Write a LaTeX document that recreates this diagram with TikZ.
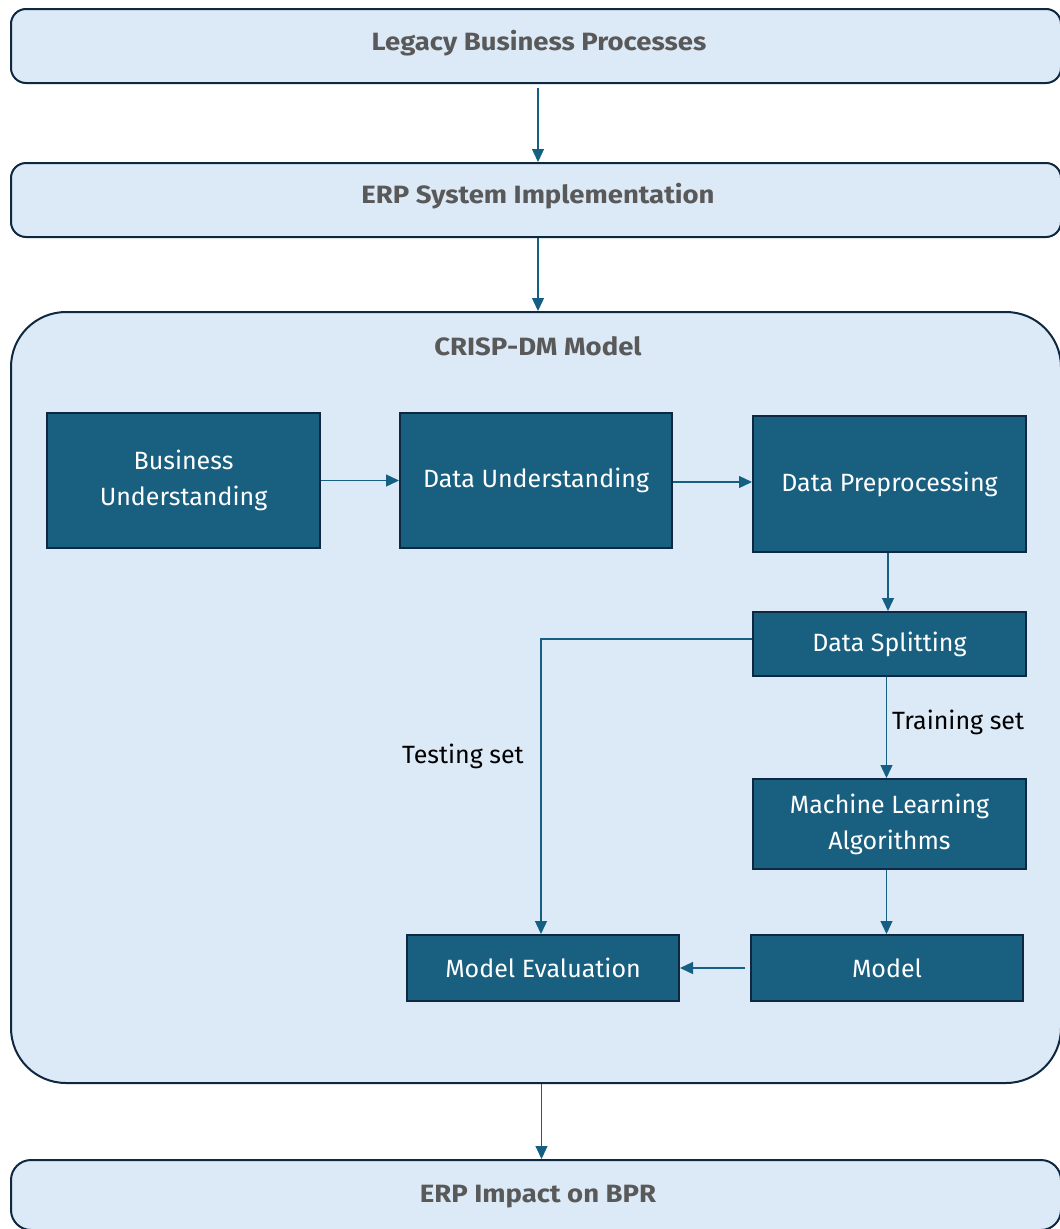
\documentclass[tikz,border=0pt]{standalone}
\usepackage{fontspec}
\setmainfont{Fira Sans}
\usetikzlibrary{arrows.meta}
\definecolor{lightfill}{HTML}{DCE9F6}
\definecolor{darkfill}{HTML}{185F80}
\definecolor{edgecol}{HTML}{0E2841}
\definecolor{conncol}{HTML}{156082}
\definecolor{headgray}{HTML}{595959}
\begin{document}
\begin{tikzpicture}[x=1pt,y=-1pt,
  roundbox/.style={draw=edgecol, line width=2pt, fill=lightfill, rounded corners=#1, inner sep=0pt},
  darkbox/.style={draw=edgecol, line width=2pt, fill=darkfill, text=white, font=\fontsize{25}{36}\selectfont, align=center, inner sep=0pt},
  head/.style={font=\fontsize{25}{30}\selectfont\bfseries, text=headgray, anchor=base, inner sep=0pt, transform shape, xscale=1.1},
  lbl/.style={font=\fontsize{25}{30}\selectfont, text=black, anchor=base west, inner sep=0pt},
  conn/.style={draw=conncol, line width=1.3pt, -{Triangle[length=13pt,width=12pt]}}
]
\useasboundingbox (0,0) rectangle (1060,1229);

% outer rounded boxes
\node[roundbox=15pt, minimum width=1050pt, minimum height=74pt] (legacy) at (536,46) {};
\node[roundbox=15pt, minimum width=1050pt, minimum height=74pt] (erp) at (536,200) {};
\node[roundbox=55pt, minimum width=1050pt, minimum height=771pt] (crisp) at (536,697.5) {};
\node[roundbox=20pt, minimum width=1050pt, minimum height=70pt] (impact) at (536,1195) {};

% headings
\node[head] (legacyT) at (539,50) {Legacy Business Processes};
\node[head] (erpT) at (538,203) {ERP System Implementation};
\node[head] (crispT) at (538,355) {CRISP-DM Model};
\node[head] (impactT) at (538,1202) {ERP Impact on BPR};

% inner boxes
\node[darkbox, minimum width=273pt, minimum height=135pt] (bu) at (183.5,480.5) {Business\\Understanding};
\node[darkbox, minimum width=272pt, minimum height=135pt] (du) at (536,480.5) {Data Understanding};
\node[darkbox, minimum width=273pt, minimum height=136pt] (dp) at (889.5,484) {Data Preprocessing};
\node[darkbox, minimum width=273pt, minimum height=64pt] (ds) at (889.5,644) {Data Splitting};
\node[darkbox, minimum width=273pt, minimum height=90pt] (ml) at (889.5,824) {Machine Learning\\Algorithms};
\node[darkbox, minimum width=272pt, minimum height=66pt] (me) at (543,968) {Model Evaluation};
\node[darkbox, minimum width=272pt, minimum height=66pt] (model) at (887,968) {Model};

% labels
\node[lbl] (train) at (892,729) {Training set};
\node[lbl] (test) at (402,763) {Testing set};

% connectors
\draw[conn, shorten <=4pt] ([xshift=2pt]legacy.south) -- ([xshift=2pt]erp.north);
\draw[conn] ([xshift=2pt]erp.south) -- ([xshift=2pt]crisp.north);
\draw[conn] ([xshift=5.5pt]crisp.south) -- ([xshift=5.5pt]impact.north);
\draw[conn] (bu.east) -- (bu.east -| du.west);
\draw[conn] ([yshift=-1.5pt]du.east) -- ([yshift=-1.5pt]du.east -| dp.west);
\draw[conn] ([xshift=-1.5pt]dp.south) -- ([xshift=-1.5pt]ds.north);
\draw[conn] ([xshift=-3pt]ds.south) -- ([xshift=-3pt]ml.north);
\draw[conn] ([xshift=-3pt]ml.south) -- ([xshift=-3pt]ml.south |- model.north);
\draw[conn] ([yshift=5pt]ds.west) -| ([xshift=-2pt]me.north);
\draw[conn, shorten <=5pt] (model.west) -- (me.east);
\end{tikzpicture}
\end{document}
